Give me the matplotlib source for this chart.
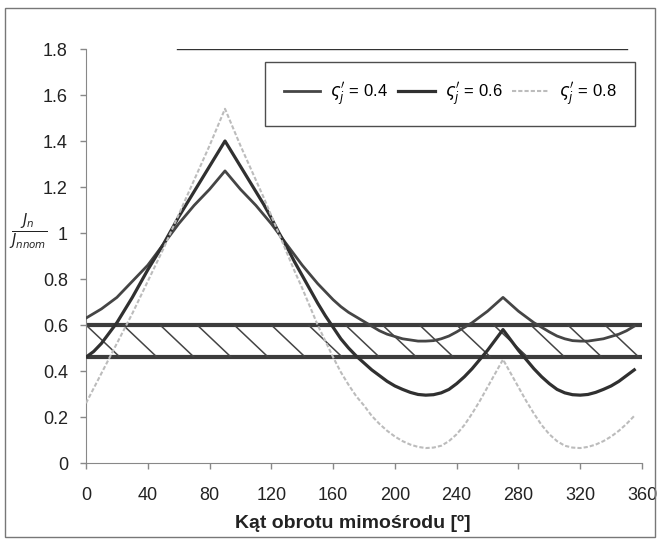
import numpy as np
import matplotlib
matplotlib.use("Agg")
import matplotlib.pyplot as plt
from matplotlib.patches import Rectangle

# kat obrotu mimosrodu [deg], co 5 stopni
angles = list(range(0, 360, 5))

# J_n / J_nnom for the three values of the coefficient
j_04 = [0.63, 0.65, 0.67, 0.695, 0.72, 0.755, 0.79, 0.825, 0.86, 0.905, 0.95, 0.995, 1.04, 1.08, 1.12, 1.155, 1.19, 1.23,
        1.27, 1.23, 1.19, 1.155, 1.12, 1.08, 1.04, 0.995, 0.95, 0.905, 0.86, 0.82, 0.78, 0.745, 0.71, 0.68, 0.655, 0.635,
        0.615, 0.595, 0.575, 0.56, 0.55, 0.54, 0.535, 0.53, 0.53, 0.532, 0.54, 0.552, 0.57, 0.59, 0.61, 0.635, 0.66, 0.69,
        0.72, 0.69, 0.66, 0.635, 0.61, 0.59, 0.57, 0.552, 0.54, 0.532, 0.53, 0.53, 0.535, 0.54, 0.55, 0.56, 0.575, 0.595]
j_06 = [0.46, 0.485, 0.52, 0.565, 0.61, 0.665, 0.72, 0.78, 0.84, 0.895, 0.95, 1.01, 1.07, 1.125, 1.18, 1.235, 1.29, 1.345,
        1.40, 1.345, 1.29, 1.235, 1.18, 1.125, 1.065, 1.0, 0.94, 0.875, 0.815, 0.755, 0.695, 0.64, 0.59, 0.54, 0.50, 0.465,
        0.435, 0.405, 0.38, 0.355, 0.335, 0.32, 0.307, 0.298, 0.295, 0.297, 0.305, 0.32, 0.345, 0.375, 0.41, 0.45, 0.49, 0.535,
        0.58, 0.535, 0.49, 0.45, 0.41, 0.375, 0.345, 0.32, 0.305, 0.297, 0.295, 0.298, 0.307, 0.32, 0.335, 0.355, 0.38, 0.405]
j_08 = [0.26, 0.325, 0.39, 0.455, 0.52, 0.585, 0.65, 0.72, 0.79, 0.86, 0.93, 1.005, 1.08, 1.155, 1.23, 1.305, 1.38, 1.46,
        1.54, 1.46, 1.38, 1.305, 1.23, 1.155, 1.075, 0.995, 0.915, 0.835, 0.76, 0.68, 0.60, 0.53, 0.46, 0.395, 0.34, 0.29,
        0.25, 0.205, 0.17, 0.14, 0.115, 0.095, 0.08, 0.07, 0.065, 0.067, 0.075, 0.095, 0.125, 0.165, 0.215, 0.27, 0.33, 0.39,
        0.45, 0.39, 0.33, 0.27, 0.215, 0.165, 0.125, 0.095, 0.075, 0.067, 0.065, 0.07, 0.08, 0.095, 0.115, 0.14, 0.17, 0.205]

labels = [r"$\varsigma^{\prime}_{j}$ = 0.4",
          r"$\varsigma^{\prime}_{j}$ = 0.6",
          r"$\varsigma^{\prime}_{j}$ = 0.8"]

# dopuszczalny zakres (pas zakreskowany)
band_lo = 0.46
band_hi = 0.60

x_ticks = [0, 40, 80, 120, 160, 200, 240, 280, 320, 360]
y_ticks = [0, 0.2, 0.4, 0.6, 0.8, 1.0, 1.2, 1.4, 1.6, 1.8]

plt.rcParams['font.family'] = ['Liberation Sans', 'DejaVu Sans']
plt.rcParams['mathtext.fontset'] = 'dejavusans'

fig = plt.figure(figsize=(6.6, 5.41), dpi=100)
ax = fig.add_axes([86 / 660, 1 - 463 / 541, 556 / 660, 414 / 541])

# pas z kreskowaniem
ax.axhline(band_hi, color='#3c3c3c', lw=3, zorder=2)
ax.axhline(band_lo, color='#3c3c3c', lw=3, zorder=2)
clip = Rectangle((0, band_lo), 360, band_hi - band_lo, transform=ax.transData)
hatch_step = 24
hatch_run = 22
for x0 in np.arange(0, 360, hatch_step):
    ln, = ax.plot([x0, x0 + hatch_run], [band_hi, band_lo],
                  color='#444444', lw=1.1, zorder=2)
    ln.set_clip_path(clip)

ax.plot(angles, j_04, color='#454545', lw=2.0, label=labels[0], zorder=3)
ax.plot(angles, j_06, color='#303030', lw=2.3, label=labels[1], zorder=3)
ax.plot(angles, j_08, color='#bcbcbc', lw=1.5, ls=(0, (2, 1)),
        label=labels[2], zorder=3)

# linia u gory wykresu
ax.axhline(1.8, xmin=0.164, xmax=0.973, color='#333333', lw=1)

ax.set_xlim(0, 360)
ax.set_ylim(0, 1.8)
ax.set_xticks(x_ticks)
ax.set_yticks(y_ticks)
ax.set_yticklabels(['%g' % v for v in y_ticks])
ax.tick_params(labelsize=13, colors='#222222', length=4, width=1)
ax.tick_params(axis='x', pad=13)
ax.tick_params(axis='y', pad=9)
ax.tick_params(color='#888888')
for side in ['top', 'right']:
    ax.spines[side].set_visible(False)
for side in ['left', 'bottom']:
    ax.spines[side].set_color('#888888')

ax.set_xlabel('Kąt obrotu mimośrodu [º]', fontsize=14, fontweight='bold',
              color='#222222')
ax.xaxis.set_label_coords(0.48, -0.125)

fig.text(28 / 660, 1 - 232 / 541, r'$\frac{J_n}{J_{nnom}}$', fontsize=15,
         ha='center', va='center', color='#222222')

leg = ax.legend(loc='upper right', ncol=3, fontsize=12, frameon=True,
                fancybox=False, borderpad=1.1, handlelength=2.2,
                handletextpad=0.6, columnspacing=0.6, borderaxespad=0,
                bbox_to_anchor=(635 / 660, 1 - 62 / 541),
                bbox_transform=fig.transFigure)
leg.get_frame().set_edgecolor('#222222')
leg.get_frame().set_linewidth(1)

# ramka wokol calego rysunku
fig.patches.append(Rectangle((5 / 660, 4 / 541), 650 / 660, 529 / 541,
                             transform=fig.transFigure, fill=False,
                             edgecolor='#777777', lw=1))

fig.savefig('out.png', dpi=100)
